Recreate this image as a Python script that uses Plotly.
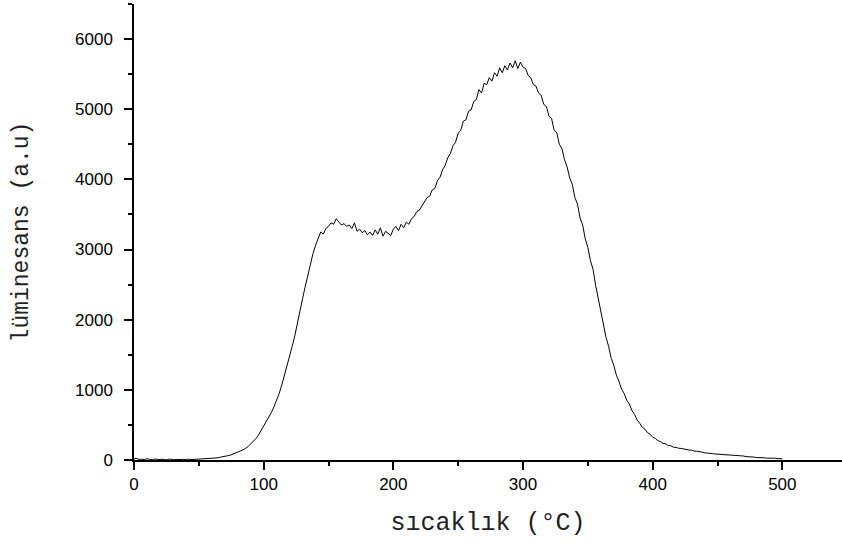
import plotly.graph_objects as go

# temperature grid (°C), every 2 degrees from 0 to 500
sicaklik = list(range(0, 501, 2))

# luminescence intensity (a.u)
luminesans = [
    # 0-60
    15, 22, 8, 12, 5, 18, 10, 3, 14, 9, 6, 11, 2, 8, 13, 4, 7, 10, 3, 9,
    5, 12, 6, 8, 14, 10, 12, 18, 15, 20, 22,
    # 62-100
    25, 30, 38, 42, 52, 60, 68, 80, 95, 112, 128, 145, 165, 192, 225, 262,
    305, 355, 420, 480,
    # 102-140
    540, 610, 680, 760, 850, 950, 1070, 1200, 1330, 1470, 1620, 1770, 1960,
    2140, 2300, 2470, 2640, 2790, 2940, 3060,
    # 142-200
    3170, 3250, 3220, 3300, 3330, 3380, 3360, 3440, 3390, 3350, 3370, 3330,
    3350, 3300, 3380, 3260, 3290, 3240, 3270, 3210, 3250, 3200, 3280, 3220,
    3310, 3190, 3260, 3230, 3200, 3290,
    # 202-260
    3330, 3270, 3360, 3310, 3390, 3360, 3440, 3470, 3540, 3560, 3620, 3660,
    3740, 3760, 3850, 3870, 3980, 4030, 4140, 4200, 4310, 4370, 4480, 4530,
    4660, 4700, 4830, 4850, 4970, 4990,
    # 262-320
    5110, 5140, 5280, 5230, 5370, 5350, 5450, 5400, 5520, 5470, 5590, 5520,
    5620, 5560, 5660, 5590, 5690, 5580, 5670, 5600, 5580, 5480, 5450, 5350,
    5330, 5230, 5200, 5070, 5040, 4900,
    # 322-380
    4870, 4700, 4670, 4500, 4440, 4280, 4180, 4020, 3930, 3740, 3650, 3450,
    3350, 3150, 3030, 2840, 2720, 2490, 2300, 2090, 1940, 1750, 1620, 1450,
    1350, 1210, 1120, 1010, 950, 850,
    # 382-440
    800, 705, 650, 570, 525, 465, 440, 390, 368, 325, 308, 275, 262, 236,
    230, 206, 204, 182, 181, 167, 165, 155, 153, 142, 141, 127, 125, 113,
    112, 102,
    # 442-500
    102, 93, 92, 86, 84, 78, 77, 70, 72, 66, 67, 60, 62, 56, 57, 48, 48, 40,
    42, 35, 37, 30, 32, 26, 28, 23, 26, 20, 23, 18,
]

x_ticks = [0, 100, 200, 300, 400, 500]
y_ticks = [0, 1000, 2000, 3000, 4000, 5000, 6000]

fig = go.Figure(go.Scatter(
    x=sicaklik, y=luminesans, mode="lines",
    line=dict(color="black", width=1), showlegend=False,
))

mono = "Courier New, Liberation Mono, monospace"
sans = "Arial, Liberation Sans, sans-serif"

fig.update_layout(
    width=842, height=546,
    margin=dict(l=134, r=0, t=4, b=86),
    paper_bgcolor="white", plot_bgcolor="white",
    font=dict(family=sans, color="black", size=17),
)
fig.update_xaxes(
    range=[0, 546], showgrid=False, zeroline=False,
    showline=True, linecolor="black", linewidth=1.5,
    ticks="outside", ticklen=8, tickwidth=1.5, tickcolor="black",
    tickvals=x_ticks, ticktext=[str(v) for v in x_ticks],
    tickfont=dict(family=sans, size=17),
    minor=dict(ticks="outside", ticklen=4, tickwidth=1.5, tickcolor="black", dtick=50, tick0=0),
    title=dict(text="sıcaklık (°C)", font=dict(family=mono, size=25, color="#222"), standoff=19),
)
fig.update_yaxes(
    range=[0, 6500], showgrid=False, zeroline=False,
    showline=True, linecolor="black", linewidth=1.5,
    ticks="outside", ticklen=8, tickwidth=1.5, tickcolor="black",
    tickvals=y_ticks, ticktext=[str(v) for v in y_ticks],
    tickfont=dict(family=sans, size=17), ticklabelstandoff=8,
    minor=dict(ticks="outside", ticklen=4, tickwidth=1.5, tickcolor="black", dtick=500, tick0=0),
    title=dict(text="lüminesans (a.u)", font=dict(family=mono, size=23, color="#222"), standoff=40),
)

fig.write_html("out.html")
